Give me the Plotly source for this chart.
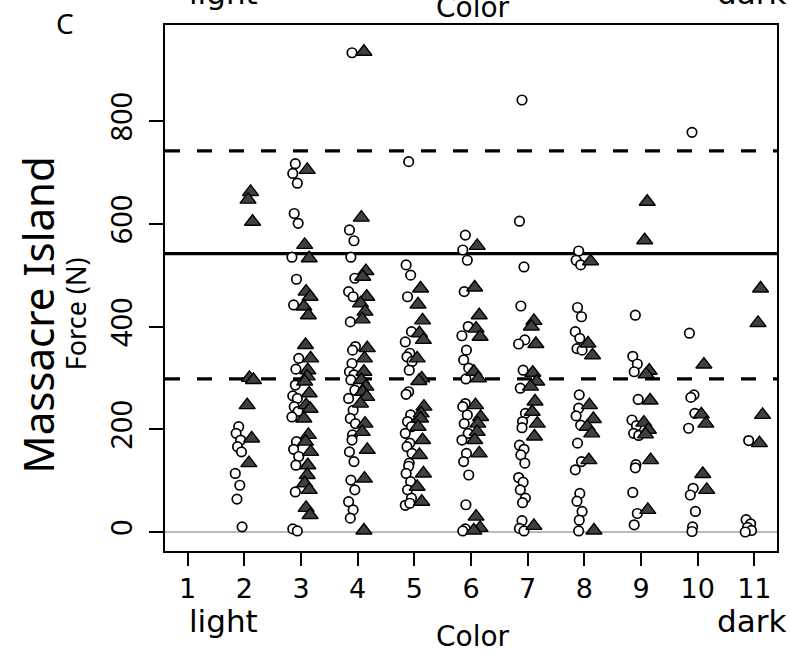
import plotly.graph_objects as go

# ---------------- data ----------------
categories = [1, 2, 3, 4, 5, 6, 7, 8, 9, 10, 11]
tick_labels = ["1", "2", "3", "4", "5", "6", "7", "8", "9", "10", "11"]
y_tick_values = [0, 200, 400, 600, 800]

# open circles (force, N) per colour category
circles = {
    1: [],
    2: [205, 192, 179, 166, 156, 114, 91, 64, 10],
    3: [717, 698, 679, 620, 601, 535, 492, 442, 338, 317, 286, 265, 260, 244, 235, 224,
        176, 161, 147, 130, 78, 6, 2],
    4: [933, 588, 567, 535, 494, 468, 458, 409, 361, 354, 328, 312, 306, 296, 276, 260,
        237, 221, 211, 189, 179, 156, 137, 101, 82, 59, 43, 27],
    5: [721, 520, 500, 458, 390, 370, 348, 341, 332, 315, 273, 268, 228, 215, 205, 192,
        173, 166, 153, 134, 128, 114, 98, 82, 66, 52, 56],
    6: [578, 549, 529, 468, 400, 382, 354, 335, 319, 298, 250, 244, 228, 211, 192, 179,
        153, 137, 111, 53, 6, 2],
    7: [841, 605, 516, 440, 374, 366, 315, 280, 231, 215, 203, 169, 161, 150, 134, 106,
        97, 82, 66, 57, 22, 7, 2],
    8: [547, 529, 520, 437, 419, 390, 377, 357, 354, 267, 241, 226, 208, 173, 137, 121,
        75, 60, 40, 23, 2],
    9: [422, 342, 327, 312, 258, 218, 207, 192, 188, 131, 125, 77, 36, 14],
    10: [778, 387, 267, 262, 231, 202, 85, 72, 40, 10, 1],
    11: [178, 24, 16, 9, 3, 0],
}

# filled triangles (force, N) per colour category
triangles = {
    1: [],
    2: [662, 647, 604, 300, 296, 247, 182, 134],
    3: [705, 559, 533, 468, 458, 439, 422, 364, 338, 315, 303, 293, 270, 247, 240, 221,
        189, 176, 156, 130, 111, 95, 82, 47, 33],
    4: [935, 612, 508, 497, 458, 445, 429, 414, 358, 338, 312, 296, 283, 273, 263, 250,
        211, 195, 160, 104, 3],
    5: [474, 443, 412, 387, 374, 338, 299, 294, 244, 231, 221, 205, 179, 150, 114, 88, 59],
    6: [557, 476, 422, 396, 380, 312, 299, 247, 224, 211, 195, 179, 153, 30, 8, 3],
    7: [411, 400, 366, 310, 293, 283, 254, 234, 211, 186, 12],
    8: [527, 367, 344, 247, 220, 205, 192, 140, 3],
    9: [643, 568, 314, 307, 256, 213, 199, 190, 140, 43],
    10: [326, 229, 211, 113, 82],
    11: [474, 407, 228, 173],
}

mean_force = 542
band_low, band_high = 298, 742

# ---------------- styling helpers ----------------
jitter_pattern = [0.0, -0.045, 0.035, -0.02, 0.05, -0.06, 0.02, -0.03, 0.06, 0.01]
circle_shift = -0.1
triangle_shift = 0.11


def positions(groups, shift):
    xs, ys = [], []
    for c in categories:
        for i, v in enumerate(groups[c]):
            xs.append(c + shift + jitter_pattern[i % len(jitter_pattern)])
            ys.append(v)
    return xs, ys


cx, cy = positions(circles, circle_shift)
tx, ty = positions(triangles, triangle_shift)

fig = go.Figure()
fig.add_trace(go.Scatter(
    x=cx, y=cy, mode="markers",
    marker=dict(symbol="circle", size=9.5, color="white",
                line=dict(color="black", width=1.7)),
    showlegend=False, cliponaxis=False))
fig.add_trace(go.Scatter(
    x=tx, y=ty, mode="markers",
    marker=dict(symbol="triangle-up", size=14, color="#404040",
                line=dict(color="black", width=1.4)),
    showlegend=False, cliponaxis=False))

# reference lines
fig.add_hline(y=0, line=dict(color="#777777", width=1.2), layer="below")
fig.add_hline(y=mean_force, line=dict(color="black", width=3.2), layer="below")
for v in (band_low, band_high):
    fig.add_hline(y=v, line=dict(color="black", width=3.2, dash="15px,17px"), layer="below")

xfont = "DejaVu Sans"
yfont = "Noto Sans"

fig.update_layout(
    width=791, height=656,
    margin=dict(l=165, r=12, t=25, b=105),
    paper_bgcolor="white", plot_bgcolor="white",
    xaxis=dict(range=[0.6, 11.4], tickvals=categories, ticktext=tick_labels,
               ticks="outside", ticklen=13, tickwidth=1.6, tickcolor="black",
               showline=True, mirror=True, linecolor="black", linewidth=2,
               showgrid=False, zeroline=False,
               tickfont=dict(family=xfont, size=27, color="black")),
    yaxis=dict(range=[-37, 987], tickvals=y_tick_values,
               ticktext=[str(v) for v in y_tick_values],
               tickangle=-90, ticklabelstandoff=5,
               ticks="outside", ticklen=14, tickwidth=1.6, tickcolor="black",
               showline=True, mirror=True, linecolor="black", linewidth=2,
               showgrid=False, zeroline=False,
               tickfont=dict(family=yfont, size=29, color="black")),
)


def px_x(p):
    return (p - 165) / 614


def px_y(p):
    return (551 - p) / 526


ann = [
    # bottom axis labels
    dict(text="light", x=1.64, xref="x", y=px_y(621), yref="paper",
         font=dict(family=xfont, size=31, color="black")),
    dict(text="dark", x=10.95, xref="x", y=px_y(621), yref="paper",
         font=dict(family=xfont, size=31, color="black")),
    dict(text="Color", x=6.04, xref="x", y=px_y(636), yref="paper",
         font=dict(family=xfont, size=28, color="black")),
    # cut-off labels from the panel above
    dict(text="light", x=1.64, xref="x", y=px_y(-7), yref="paper",
         font=dict(family=xfont, size=31, color="black")),
    dict(text="dark", x=10.95, xref="x", y=px_y(-7), yref="paper",
         font=dict(family=xfont, size=31, color="black")),
    dict(text="Color", x=6.04, xref="x", y=px_y(8), yref="paper",
         font=dict(family=xfont, size=28, color="black")),
    # panel letter and y titles
    dict(text="C", x=px_x(65), xref="paper", y=px_y(23), yref="paper",
         font=dict(family=yfont, size=28, color="black")),
    dict(text="Massacre Island", x=px_x(38), xref="paper", y=px_y(315), yref="paper",
         textangle=-90, font=dict(family=yfont, size=42, color="black")),
    dict(text="Force (N)", x=px_x(75), xref="paper", y=px_y(314), yref="paper",
         textangle=-90, font=dict(family=yfont, size=27, color="black")),
]
for a in ann:
    a.update(xanchor="center", yanchor="middle", showarrow=False)
fig.update_layout(annotations=ann)

fig.write_html("out.html")
